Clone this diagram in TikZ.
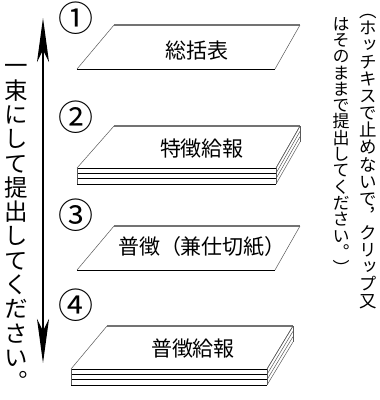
\documentclass[tikz,border=0pt]{standalone}
\usepackage{fontspec}
\usetikzlibrary{arrows.meta}
\newfontfamily\jp{Noto Sans CJK JP}
\newfontfamily\jpv[RawFeature=+vert]{Noto Sans CJK JP}
\makeatletter
\newcommand\tatestack[2]{\vbox{\baselineskip=#1\lineskiplimit=-100pt\lineskip=0pt\tate@loop#2\relax}}
\def\tate@loop#1{\ifx#1\relax\else\hbox to 1em{\hss\vrule height .88em depth .12em width 0pt\relax #1\hss}\expandafter\tate@loop\fi}
\makeatother
\tikzset{
  topedge/.style={draw=black!55, line width=1.3pt},
  frontedge/.style={draw=black, line width=0.9pt},
  sideedge/.style={draw=black!65, line width=0.5pt},
  label/.style={inner sep=0pt, font=\jp\fontsize{21}{21}\selectfont},
  num/.style={inner sep=0pt, font=\jp\fontsize{35}{35}\selectfont},
  tate/.style={inner sep=0pt, anchor=north},
}
\begin{document}
\begin{tikzpicture}[x=1pt,y=-1pt]
\useasboundingbox (0,0) rectangle (380,400);

% arrow
\coordinate (atop) at (43,18);
\coordinate (abot) at (43,363);
\draw[line width=1.3pt, {Stealth[length=44pt,width=12pt,inset=12pt]}-{Stealth[length=44pt,width=12pt,inset=12pt]}] (atop) -- (abot);

% left vertical text
\node[tate] (lefttext) at (16,54) {\jpv\fontsize{23.5}{23.5}\selectfont\tatestack{24.3pt}{一束にして提出してください。}};

% right vertical text
\node[tate] (rcol1) at (368,1.5) {\jpv\fontsize{17.5}{17.5}\selectfont\tatestack{17.1pt}{（ホッチキスで止めないで，クリップ又}};
\node[tate] (rcol2) at (341,15) {\jpv\fontsize{17}{17}\selectfont\tatestack{16.3pt}{はそのままで提出してください。）}};

% numbers
\node[num] (n1) at (76,18) {①};
\node[num] (n2) at (76,117) {②};
\node[num] (n3) at (76,215) {③};
\node[num] (n4) at (76,305) {④};

% sheet 1
\draw[topedge] (114,25) -- (300,25);
\draw[sideedge] (114,25) -- (77,69);
\draw[sideedge] (300,25) -- (275,69);
\draw[frontedge] (77,69) -- (275,69);
\node[label] (s1) at (197,51) {総括表};

% sheet 2 (stack)
\draw[topedge] (114,126) -- (300,126);
\draw[sideedge] (114,126) -- (77,168);
\draw[sideedge] (300,126) -- (276,168);
\foreach \d in {0,5.33,10.67,16} {
  \draw[frontedge] (77,168+\d) -- (276,168+\d);
  \draw[sideedge] (276,168+\d) -- (300,126+\d);
}
\draw[sideedge] (77,168) -- (77,184);
\draw[sideedge] (276,168) -- (276,184);
\draw[sideedge] (300,126) -- (300,142);
\node[label] (s2) at (202,149) {特徴給報};

% sheet 3
\draw[topedge] (114,226) -- (300,226);
\draw[sideedge] (114,226) -- (77,270);
\draw[sideedge] (300,226) -- (275,270);
\draw[frontedge] (77,270) -- (275,270);
\node[label] (s3) at (202,247) {普徴（兼仕切紙）};

% sheet 4 (stack)
\draw[topedge] (107,326) -- (293,326);
\draw[sideedge] (107,326) -- (71,369);
\draw[sideedge] (293,326) -- (267,369);
\foreach \d in {0,5.33,10.67,16} {
  \draw[frontedge] (71,369+\d) -- (267,369+\d);
  \draw[sideedge] (267,369+\d) -- (293,326+\d);
}
\draw[sideedge] (71,369) -- (71,385);
\draw[sideedge] (267,369) -- (267,385);
\draw[sideedge] (293,326) -- (293,342);
\node[label] (s4) at (193,349) {普徴給報};
\end{tikzpicture}
\end{document}
